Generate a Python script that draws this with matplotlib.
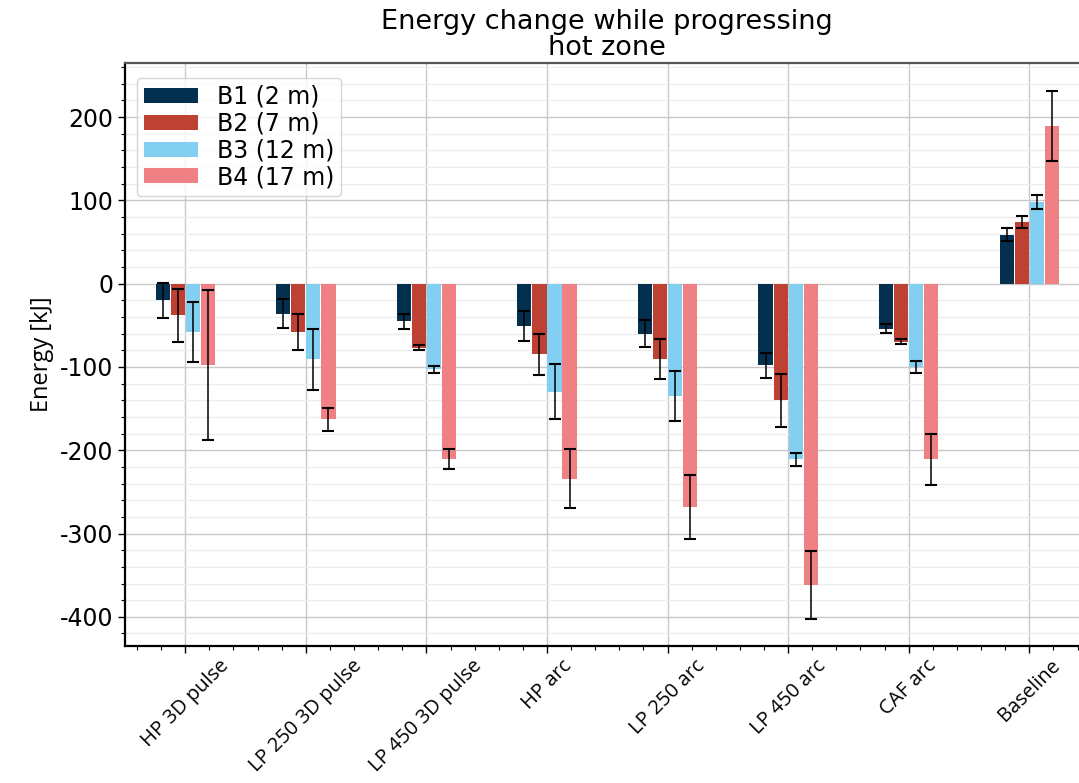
import numpy as np
import matplotlib
matplotlib.use("Agg")
import matplotlib.pyplot as plt
from matplotlib.ticker import MultipleLocator, AutoMinorLocator

plt.rcParams["axes.unicode_minus"] = False

# energy change per test case and measuring position
cases = ["HP 3D pulse", "LP 250 3D pulse", "LP 450 3D pulse", "HP arc",
         "LP 250 arc", "LP 450 arc", "CAF arc", "Baseline"]
series = ["B1 (2 m)", "B2 (7 m)", "B3 (12 m)", "B4 (17 m)"]

b1_mean = [-20, -36, -45, -51, -60, -98, -54, 59]
b2_mean = [-38, -58, -77, -85, -90, -140, -70, 74]
b3_mean = [-58, -91, -103, -130, -135, -211, -100, 98]
b4_mean = [-98, -163, -211, -234, -268, -362, -211, 189]

b1_err = [21, 17, 9, 18, 16, 15, 5, 8]
b2_err = [32, 22, 3, 25, 24, 32, 3, 7]
b3_err = [36, 37, 4, 33, 30, 8, 7, 8]
b4_err = [90, 14, 12, 35, 38, 41, 31, 42]

colors = ["#04304f", "#bd4234", "#82cff1", "#ef8185"]

means = [b1_mean, b2_mean, b3_mean, b4_mean]
errs = [b1_err, b2_err, b3_err, b4_err]

fig = plt.figure(figsize=(10.79, 7.83), dpi=100)
ax = fig.add_axes([0.1158, 0.175, 0.894, 0.7446])

x = np.arange(len(cases))
w = 0.125
for i in range(4):
    pos = x + (i - 1.5) * w
    ax.bar(pos, means[i], width=w * 0.94, color=colors[i], label=series[i],
           zorder=3)
    ax.errorbar(pos, means[i], yerr=errs[i], fmt="none", ecolor="black",
                elinewidth=1.1, capsize=4, capthick=1.5, zorder=4)

ax.set_xlim(-0.5, 7.5)
ax.set_ylim(-435, 265)
ax.yaxis.set_major_locator(MultipleLocator(100))
ax.yaxis.set_minor_locator(MultipleLocator(20))
ax.xaxis.set_minor_locator(AutoMinorLocator(5))
ax.set_xticks(x)
ax.set_xticklabels(cases, rotation=45, ha="center", family="Open Sans",
                   fontsize=14.5)
ax.tick_params(axis="y", labelsize=17, length=5, width=1)
ax.tick_params(axis="x", length=5, width=1, pad=2)
ax.tick_params(which="minor", length=3, width=0.8)

ax.grid(True, which="major", color="#c8c8c8", linewidth=1.0, zorder=0)
ax.grid(True, which="minor", axis="y", color="#ececec", linewidth=0.9, zorder=0)
ax.set_axisbelow(True)

for side in ["left", "bottom"]:
    ax.spines[side].set_linewidth(1.6)
    ax.spines[side].set_color("black")
ax.spines["top"].set_linewidth(1.6)
ax.spines["top"].set_color("#555555")

ax.set_ylabel("Energy [kJ]", family="Open Sans", fontsize=17, labelpad=4)
ax.set_title("Energy change while progressing\nhot zone", fontsize=19.5,
             pad=6, linespacing=1.0)

ax.legend(loc="upper left", fontsize=17, handlelength=2.3, handleheight=0.6,
          borderpad=0.3, labelspacing=0.12, framealpha=0.8,
          bbox_to_anchor=(0.0, 0.995))

fig.savefig("out.png", dpi=100)
